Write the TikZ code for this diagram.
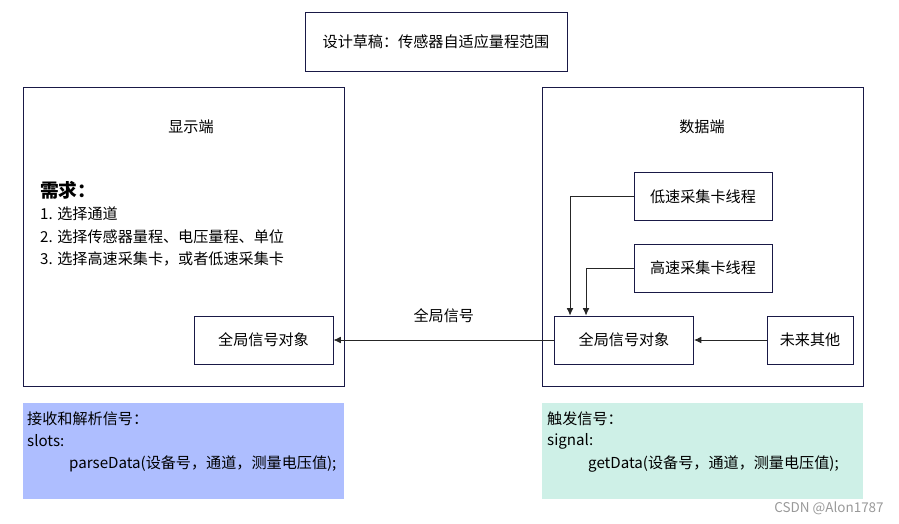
\documentclass[tikz,border=0pt]{standalone}
\usepackage{fontspec}
\setmainfont{Noto Sans CJK SC}
\usetikzlibrary{arrows.meta}
\definecolor{bord}{RGB}{25,25,70}
\definecolor{bleu}{RGB}{174,190,255}
\definecolor{vert}{RGB}{206,240,231}

\begin{document}
\begin{tikzpicture}[x=0.03cm,y=-0.03cm,
  font=\fontsize{12.9}{15}\selectfont,
  boite/.style={draw=bord,line width=0.8pt,inner sep=0pt},
  cadre/.style={boite,minimum width=9.63cm,minimum height=8.97cm},
  petit/.style={boite,minimum width=4.17cm,minimum height=1.44cm},
  note/.style={inner sep=0pt,minimum width=9.63cm,minimum height=2.88cm},
  txt/.style={inner sep=0pt,anchor=west},
  fleche/.style={-{Latex[length=2.2mm,width=2mm]},line width=0.7pt,draw=black!85}]
\useasboundingbox (0,0) rectangle (899,523);

% titre
\node[boite,minimum width=7.86cm,minimum height=1.77cm] (titre) at (436,41.5) {设计草稿：传感器自适应量程范围};

% cote affichage
\node[cadre] (affich) at (183.5,236.5) {};
\node (laffich) at (191,127) {显示端};
\node[txt,font=\fontsize{16}{18}\selectfont\bfseries] (besoin) at (40,190) {需求：};
\node[txt,anchor=north west,align=left,font=\fontsize{12.9}{19.2}\selectfont] (liste) at (40,207)
  {1. 选择通道\\2. 选择传感器量程、电压量程、单位\\3. 选择高速采集卡，或者低速采集卡};
\node[petit] (gL) at (263.5,340) {全局信号对象};

% cote donnees
\node[cadre] (donnee) at (702.5,236.5) {};
\node (ldonnee) at (702,127) {数据端};
\node[petit,minimum width=4.14cm] (bas) at (703,196.5) {低速采集卡线程};
\node[petit,minimum width=4.14cm] (haut) at (703,268) {高速采集卡线程};
\node[petit] (gR) at (624,340) {全局信号对象};
\node[petit,minimum width=2.58cm] (futur) at (810,340) {未来其他};

% fleches
\draw[fleche] (bas.west) -| ([xshift=0.48cm]gR.north west);
\draw[fleche] (haut.west) -| ([xshift=0.96cm]gR.north west);
\draw[fleche] (futur.west) -- (gR.east);
\draw[fleche] (gR.west) -- node[above=11pt] (lsig) {全局信号} (gL.east);

% notes
\node[note,fill=bleu] (nL) at (183.5,451) {};
\node[txt] (nL1) at (27,419) {接收和解析信号：};
\node[txt] (nL2) at (27,441) {slots:};
\node[txt] (nL3) at (69,464) {parseData(设备号，通道，测量电压值);};
\node[note,fill=vert] (nR) at (702.5,451) {};
\node[txt] (nR1) at (547,419) {触发信号：};
\node[txt] (nR2) at (547,441) {signal:};
\node[txt] (nR3) at (588,464) {getData(设备号，通道，测量电压值);};

\node[txt,anchor=center,text=black!40,font=\fontsize{11.5}{13}\selectfont] (csdn) at (829,508) {CSDN @Alon1787};
\end{tikzpicture}
\end{document}
